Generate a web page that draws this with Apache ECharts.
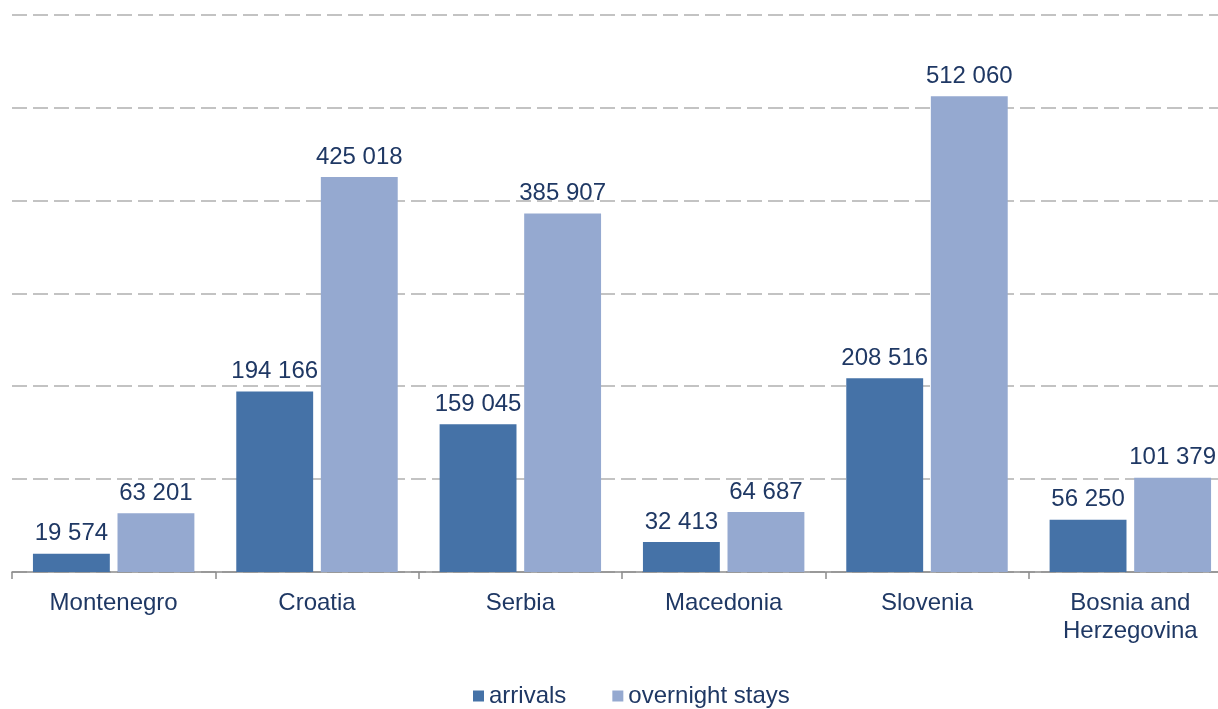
<!DOCTYPE html>
<html><head><meta charset="utf-8">
<script src="https://cdn.jsdelivr.net/npm/echarts@6/dist/echarts.min.js"></script>
<style>html,body{margin:0;padding:0;background:#fff;overflow:hidden;width:1218px;height:709px}#c{width:1232px;height:709px}</style>
</head><body><div id="c"></div>
<script>
var categories = ['Montenegro', 'Croatia', 'Serbia', 'Macedonia', 'Slovenia', 'Bosnia and\nHerzegovina'];
var arrivals = [19574, 194166, 159045, 32413, 208516, 56250];
var overnightStays = [63201, 425018, 385907, 64687, 512060, 101379];
var seriesNames = ['arrivals', 'overnight stays'];

var textColor = '#1f3864';
var fmt = function (v) { return String(v).replace(/\B(?=(\d{3})+(?!\d))/g, ' '); };
var font = 'Liberation Sans, Arial, sans-serif';
var chart = echarts.init(document.getElementById('c'), null, {renderer: 'canvas'});
chart.setOption({
  animation: false,
  grid: {left: 12, right: 0, top: 14.5, bottom: 137, containLabel: false},
  legend: {
    data: seriesNames, top: 679, left: 468, itemWidth: 11, itemHeight: 11, itemGap: 46,
    icon: 'rect', textStyle: {color: textColor, fontSize: 24, fontFamily: font}
  },
  xAxis: {
    type: 'category', data: categories,
    axisLine: {lineStyle: {color: '#8c8c8c', width: 1.5}},
    axisTick: {show: true, length: 7, lineStyle: {color: '#8c8c8c', width: 1.5}},
    axisLabel: {color: textColor, fontSize: 24, fontFamily: font, margin: 17, lineHeight: 28, interval: 0}
  },
  yAxis: {
    type: 'value', min: 0, max: 600000, interval: 100000,
    axisLabel: {show: false}, axisLine: {show: false}, axisTick: {show: false},
    splitLine: {lineStyle: {color: '#c3c3c3', width: 2, type: [15, 6]}}
  },
  series: [
    {name: seriesNames[0], type: 'bar', data: arrivals, barGap: '10%', barCategoryGap: '20.6%',
     itemStyle: {color: '#4572a7'},
     label: {show: true, position: 'top', distance: 8, color: textColor, fontSize: 24, fontFamily: font,
       formatter: function (p) { return fmt(p.value); }}},
    {name: seriesNames[1], type: 'bar', data: overnightStays,
     itemStyle: {color: '#95a9d0'},
     label: {show: true, position: 'top', distance: 8, color: textColor, fontSize: 24, fontFamily: font,
       formatter: function (p) { return fmt(p.value); }}}
  ]
});
</script></body></html>
